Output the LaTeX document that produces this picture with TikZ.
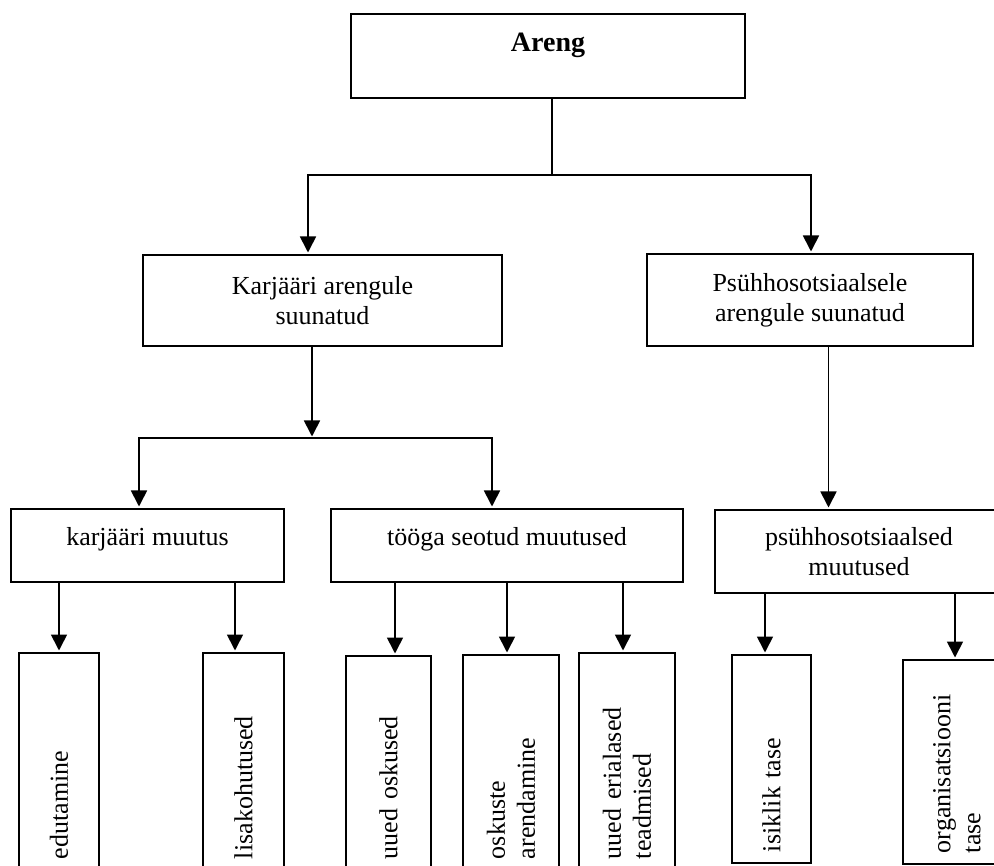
\documentclass[tikz,border=0pt]{standalone}
\usepackage{fontspec}
\setmainfont{Liberation Serif}
\usetikzlibrary{arrows.meta}
\begin{document}
\begin{tikzpicture}[x=1pt,y=-1pt,
  box/.style={draw,line width=2pt,inner sep=0pt,align=center,
    font=\fontsize{26}{30}\selectfont},
  vbox/.style={draw,line width=2pt,rotate=90,inner xsep=11pt,inner ysep=0pt,
    align=left,font=\fontsize{26}{30}\selectfont},
  conn/.style={line width=1.7pt},
  arr/.style={conn,-{Triangle[length=16pt,width=16pt]},shorten >=1.5pt}]
\useasboundingbox (0,0) rectangle (994,866);
\clip (0,0) rectangle (994,866);

% top level
\node[box,minimum width=394pt,minimum height=84pt,text height=38pt,text depth=46pt,
  font=\fontsize{28}{32}\selectfont\bfseries] (areng) at (548,56) {Areng};

% second level
\node[box,minimum width=359pt,minimum height=91pt] (karj) at (322.5,300.5)
  {Karjääri arengule\\suunatud};
\node[box,minimum width=326pt,minimum height=92pt] (psy) at (810,300)
  {Psühhosotsiaalsele\\arengule suunatud};

% third level
\node[box,minimum width=273pt,minimum height=73pt,text height=36pt,text depth=37pt]
  (km) at (147.5,545.5) {karjääri muutus};
\node[box,minimum width=352pt,minimum height=73pt,text height=36pt,text depth=37pt]
  (tm) at (507,545.5) {tööga seotud muutused};
\node[box,minimum width=288pt,minimum height=83pt] (pm) at (859,551.5)
  {psühhosotsiaalsed\\muutused};

% bottom level, vertical text
\node[vbox,text width=195pt,minimum height=80pt] (ed) at (59,761.5) {edutamine};
\node[vbox,text width=195pt,minimum height=81pt] (lk) at (243.5,761.5) {lisakohutused};
\node[vbox,text width=192pt,minimum height=85pt] (uo) at (388.5,763) {uued oskused};
\node[vbox,text width=193pt,minimum height=96pt] (oa) at (511,762.5) {oskuste\\arendamine};
\node[vbox,text width=195pt,minimum height=96pt] (ue) at (627,761.5) {uued erialased\\teadmised};
\node[vbox,text width=186pt,minimum height=79pt] (it) at (771.5,759) {isiklik tase};
\node[vbox,text width=182pt,minimum height=108pt] (ot) at (957,762) {organisatsiooni\\tase};

% connectors from the top box
\coordinate (j1) at (552,175);
\draw[conn] (areng.south -| j1) -- (j1);
\draw[arr] (j1) -| ([xshift=-14.5pt]karj.north);
\draw[arr] (j1) -| ([xshift=1pt]psy.north);

% career branch
\coordinate (j2) at (312,438);
\draw[arr] ([xshift=-10.5pt]karj.south) -- (j2);
\draw[arr] (j2) -| ([xshift=-8.5pt]km.north);
\draw[arr] (j2) -| ([xshift=-15pt]tm.north);

% psychosocial branch
\draw[arr] ([xshift=18.5pt]psy.south) -- ([xshift=-30.5pt]pm.north);

% entry points on the tops of the vertical boxes
\path (ed.east) coordinate (ed-in);
\path ([xshift=-8.5pt]lk.east) coordinate (lk-in);
\path ([xshift=6.5pt]uo.east) coordinate (uo-in);
\path ([xshift=-4pt]oa.east) coordinate (oa-in);
\path ([xshift=-4pt]ue.east) coordinate (ue-in);
\path ([xshift=-6.5pt]it.east) coordinate (it-in);
\path ([xshift=-2pt]ot.east) coordinate (ot-in);

\draw[arr] (km.south -| ed-in) -- (ed-in);
\draw[arr] (km.south -| lk-in) -- (lk-in);
\draw[arr] (tm.south -| uo-in) -- (uo-in);
\draw[arr] (tm.south -| oa-in) -- (oa-in);
\draw[arr] (tm.south -| ue-in) -- (ue-in);
\draw[arr] (pm.south -| it-in) -- (it-in);
\draw[arr] (pm.south -| ot-in) -- (ot-in);
\end{tikzpicture}
\end{document}
